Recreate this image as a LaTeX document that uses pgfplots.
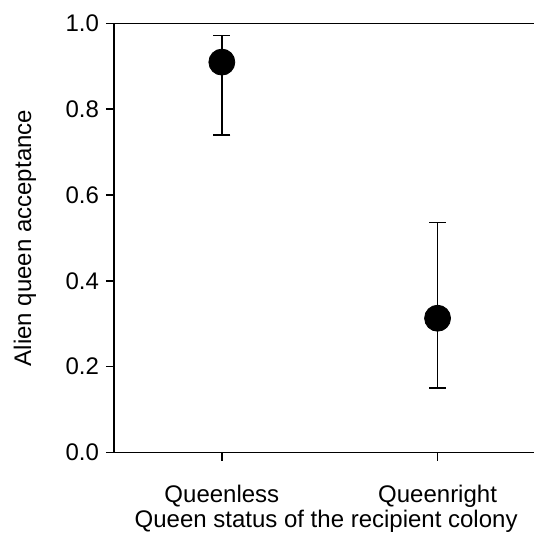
\documentclass[border=0pt]{standalone}
\usepackage{fontspec}
\setmainfont{Liberation Sans}
\usepackage{pgfplots}
\pgfplotsset{compat=1.18}
\begin{document}
\begin{tikzpicture}
\begin{axis}[
  scale only axis,
  width=210pt, height=214.5pt,
  xmin=-0.5, xmax=1.447,
  ymin=0, ymax=1,
  axis x line*=box, axis y line*=left,
  axis line style={line width=0.8pt, black},
  every tick/.style={line width=0.8pt, black},
  tick align=outside,
  major tick length=4pt,
  xtick pos=bottom, ytick pos=left,
  xtick={0,1}, xticklabels={Queenless,Queenright},
  ytick={0,0.2,0.4,0.6,0.8,1.0},
  yticklabel style={/pgf/number format/.cd, fixed, fixed zerofill, precision=1, assume math mode=true},
  ticklabel style={font=\fontsize{12}{14}\selectfont},
  xticklabel style={anchor=base, yshift=-20.75pt},
  every axis y label/.style={at={(axis description cs:-0.2119,0.5)}, rotate=90, anchor=center, font=\fontsize{12}{14}\selectfont},
  every axis x label/.style={at={(axis description cs:0.505,-0.1876)}, anchor=base, yshift=2.8pt, font=\fontsize{12}{14}\selectfont},
  xlabel={Queen status of the recipient colony},
  ylabel={Alien queen acceptance},
  clip=false,
]
\addplot[only marks, mark=*, mark size=6.5pt, black,
  error bars/.cd, y dir=both, y explicit,
  error bar style={line width=0.8pt, black},
  error mark options={rotate=90, mark size=4.2pt, line width=0.8pt, black}]
  coordinates {
    (0,0.910) += (0,0.062) -= (0,0.170)
    (1,0.313) += (0,0.223) -= (0,0.162)
  };
\end{axis}
\pgfresetboundingbox
\path[use as bounding box] ([xshift=-57pt, yshift=-40.25pt]current axis.south west) rectangle ([yshift=11.75pt]current axis.north east);
\end{tikzpicture}
\end{document}
